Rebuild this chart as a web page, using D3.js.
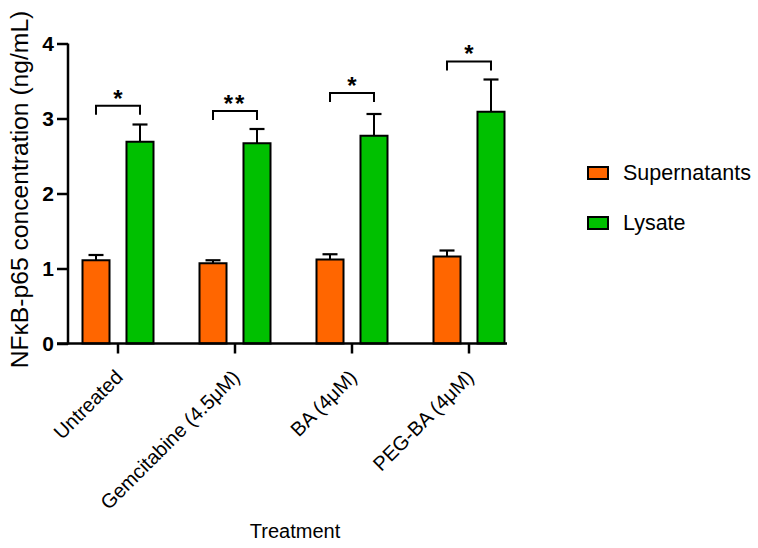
<!DOCTYPE html>
<html><head><meta charset="utf-8">
<script src="https://cdn.jsdelivr.net/npm/d3@7"></script>
<style>body{margin:0;background:#fff}svg{display:block}text{font-family:Arial,"Liberation Sans",sans-serif}</style>
</head><body>
<svg id="c" width="758" height="548"></svg>
<script>
const categories = ["Untreated", "Gemcitabine (4.5\u03BCM)", "BA (4\u03BCM)", "PEG-BA (4\u03BCM)"];
const seriesNames = ["Supernatants", "Lysate"];
const supernatants = [1.11, 1.07, 1.12, 1.16];
const supernatantsErr = [0.07, 0.04, 0.07, 0.08];
const lysate = [2.69, 2.67, 2.77, 3.09];
const lysateErr = [0.23, 0.19, 0.29, 0.43];
const bracketLevel = [3.17, 3.10, 3.34, 3.76];
const significance = ["*", "**", "*", "*"];
const yTicks = [0, 1, 2, 3, 4];
const colors = ["#FF6600", "#00C000"];

const svg = d3.select("#c");
const x = d3.scaleBand().domain(categories).range([59.5, 527.5]).padding(0);
const y = d3.scaleLinear().domain([0, 4]).range([343.5, 43.5]);
const sub = d3.scaleBand().domain(seriesNames).range([-35.5, 35.5]).paddingInner(0.386).paddingOuter(0);
const values = [supernatants, lysate];
const errs = [supernatantsErr, lysateErr];

// bars
seriesNames.forEach((s, si) => {
  const g = svg.append("g");
  categories.forEach((c, i) => {
    const cx = x(c) + x.bandwidth() / 2 + sub(s) + sub.bandwidth() / 2;
    g.append("line").attr("x1", cx).attr("x2", cx).attr("y1", y(values[si][i])).attr("y2", y(values[si][i] + errs[si][i]))
      .attr("stroke", "#000").attr("stroke-width", 2);
    g.append("line").attr("x1", cx - 7.5).attr("x2", cx + 7.5).attr("y1", y(values[si][i] + errs[si][i])).attr("y2", y(values[si][i] + errs[si][i]))
      .attr("stroke", "#000").attr("stroke-width", 2.2);
    g.append("rect").attr("x", cx - sub.bandwidth() / 2).attr("width", sub.bandwidth())
      .attr("y", y(values[si][i])).attr("height", y(0) - y(values[si][i]))
      .attr("fill", colors[si]).attr("stroke", "#000").attr("stroke-width", 2);
  });
});

// significance brackets
categories.forEach((c, i) => {
  const xc = x(c) + x.bandwidth() / 2;
  const x1 = xc + sub(seriesNames[0]) + sub.bandwidth() / 2;
  const x2 = xc + sub(seriesNames[1]) + sub.bandwidth() / 2;
  const by = y(bracketLevel[i]);
  svg.append("path").attr("d", `M${x1},${by + 9}V${by}H${x2}V${by + 9}`)
    .attr("fill", "none").attr("stroke", "#000").attr("stroke-width", 2);
  svg.append("text").attr("x", (x1 + x2) / 2).attr("y", by - 14).attr("dy", "0.62em")
    .attr("text-anchor", "middle").attr("font-size", 24).attr("font-weight", "bold")
    .attr("letter-spacing", significance[i].length > 1 ? 2 : 0)
    .text(significance[i]);
});

// y axis
const yAxis = svg.append("g").attr("transform", "translate(68,0)")
  .call(d3.axisLeft(y).tickValues(yTicks).tickFormat(d3.format("d")).tickSize(11).tickPadding(3));
yAxis.select(".domain").attr("d", `M0,${y(4)}V${y(0) + 1}`).attr("stroke-width", 2.5);
yAxis.selectAll(".tick line").attr("stroke-width", 2.5);
yAxis.selectAll(".tick text").attr("font-size", 21).attr("font-weight", "bold").attr("fill", "#000")
  .attr("font-family", "Arial, 'Liberation Sans', sans-serif");

// x axis
const xAxis = svg.append("g").attr("transform", `translate(0,${y(0)})`)
  .call(d3.axisBottom(x).tickSize(10).tickSizeOuter(0));
xAxis.select(".domain").attr("d", "M57,0H507").attr("stroke-width", 2.5);
xAxis.selectAll(".tick line").attr("stroke-width", 2.5);
xAxis.selectAll(".tick text").attr("font-size", 20).attr("fill", "#000")
  .attr("font-family", "Arial, 'Liberation Sans', sans-serif")
  .attr("text-anchor", "end").attr("dy", 0)
  .attr("transform", "translate(6,35) rotate(-45)").attr("y", 0).attr("x", 0);

// axis titles
const yl = svg.append("text").attr("transform", `translate(28,189.5) rotate(-90)`)
  .attr("text-anchor", "middle").attr("font-size", 22).text("NF\u03BAB-p65 concentration (ng/mL)");
const L = yl.node().getComputedTextLength();
yl.attr("font-size", 22 * 358 / L);
svg.append("text").attr("x", 295).attr("y", 538).attr("text-anchor", "middle").attr("font-size", 20).text("Treatment");

// legend
seriesNames.forEach((s, i) => {
  const ly = 167 + i * 50;
  svg.append("rect").attr("x", 588).attr("y", ly).attr("width", 20).attr("height", 12)
    .attr("fill", colors[i]).attr("stroke", "#000").attr("stroke-width", 2);
  svg.append("text").attr("x", 623).attr("y", ly + 13).attr("font-size", 21.5).text(s);
});
</script>
</body></html>
